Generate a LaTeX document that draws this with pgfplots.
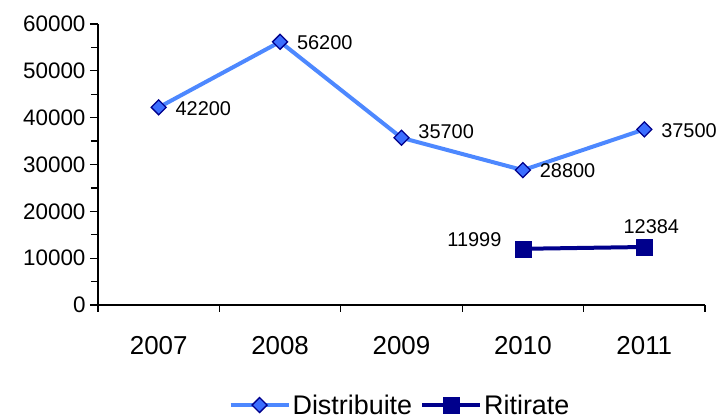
\documentclass[border=0pt]{standalone}
\usepackage{pgfplots}
\pgfplotsset{compat=1.18}
\usepackage{fontspec}
\setmainfont{Liberation Sans}
\definecolor{distline}{RGB}{77,136,255}
\definecolor{distfill}{RGB}{60,110,255}
\definecolor{navy}{RGB}{0,0,140}
\begin{document}
\begin{tikzpicture}
\path[use as bounding box] (0,0) rectangle (719bp,419bp);
\begin{axis}[
  anchor=south west, at={(98bp,114bp)},
  scale only axis, width=607bp, height=281bp,
  xmin=0.5, xmax=5.5, ymin=0, ymax=60000,
  axis x line*=bottom, axis y line*=left,
  axis line style={line width=1.3bp, -},
  every tick/.style={black, line width=1.3bp},
  tick align=outside,
  xtick={1,2,3,4,5},
  xticklabels={2007,2008,2009,2010,2011},
  minor xtick={0.5,1.5,2.5,3.5,4.5,5.5},
  major x tick style={draw=none},
  minor tick length=7bp,
  ytick={0,10000,...,60000},
  minor ytick={5000,15000,...,55000},
  major tick length=8bp,
  scaled y ticks=false,
  /pgf/number format/assume math mode=true,
  yticklabel={\pgfmathprintnumber[fixed,1000 sep={}]{\tick}},
  yticklabel style={font=\fontsize{22.5}{22.5}\selectfont, xshift=-1bp},
  xticklabel style={font=\fontsize{26}{26}\selectfont, yshift=-20bp},
  legend style={draw=none, at={(0.4975,-0.356)}, anchor=center,
    legend columns=-1, font=\fontsize{27}{27}\selectfont,
    /tikz/every even column/.append style={column sep=6bp},
    inner sep=0pt},
  legend image code/.code={
    \draw[mark repeat=2,mark phase=2,#1] plot coordinates {(0bp,0bp)(29bp,0bp)(58bp,0bp)};
  },
  clip=false,
]
\addplot[color=distline, line width=4bp,
  mark=square*, mark size=5.3bp,
  mark options={rotate=45, fill=distfill, draw=navy, line width=1.3bp},
  nodes near coords, point meta=explicit symbolic,
  visualization depends on={\thisrow{dy} \as \dy},
  every node near coord/.style={anchor=west, xshift=13bp, yshift=\dy bp, font=\fontsize{20}{20}\selectfont, text=black}]
  table[meta=label] {
x y label dy
1 42200 42200 -1
2 56200 56200 -1
3 35700 35700 6
4 28800 28800 -1
5 37500 37500 -1
};
\addlegendentry{Distribuite}
\addplot[color=navy, line width=4bp,
  mark=square*, mark size=8bp,
  mark options={fill=navy, draw=navy, line width=0.5bp}]
  coordinates {(4,11999) (5,12384)};
\addlegendentry{Ritirate}
\node[font=\fontsize{20}{20}\selectfont, anchor=east] at ([xshift=-18bp,yshift=9bp]axis cs:4,11999) {11999};
\node[font=\fontsize{20}{20}\selectfont, anchor=south] at ([xshift=7bp,yshift=10bp]axis cs:5,12384) {12384};
\end{axis}
\end{tikzpicture}
\end{document}
